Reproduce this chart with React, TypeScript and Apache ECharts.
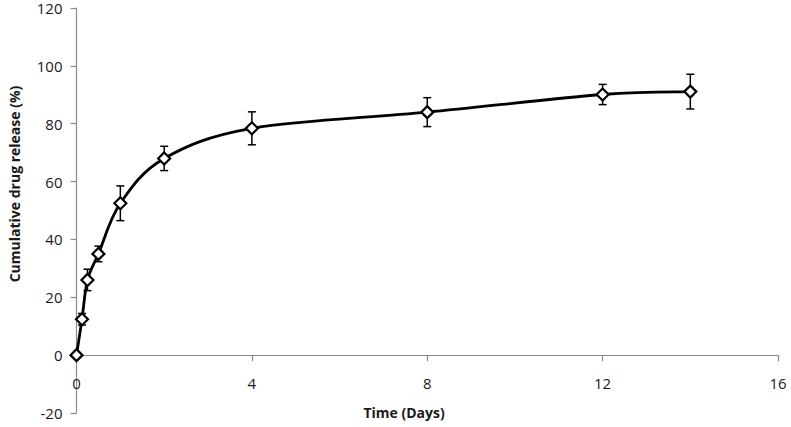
import React, { useEffect, useRef } from "react";
import * as echarts from "echarts";

const timeDays = [0, 0.125, 0.25, 0.5, 1, 2, 4, 8, 12, 14];
const releasePct = [0, 12.4, 26, 35, 52.5, 68, 78.4, 84, 90.1, 91.1];
const releaseSd = [0, 2, 3.7, 2.7, 6, 4.2, 5.7, 5, 3.5, 6];
const xTitle = "Time (Days)";
const yTitle = "Cumulative drug release (%)";

export default function App() {
  const ref = useRef<HTMLDivElement | null>(null);
  useEffect(() => {
    if (!ref.current) return;
    const chart = echarts.init(ref.current, null, { renderer: "svg" });
    const axisGray = "#8a8a8a";
    const font = "Open Sans";
    const pointData = timeDays.map((t, i) => [t, releasePct[i]]);
    const errData = timeDays.map((t, i) => [t, releasePct[i] - releaseSd[i], releasePct[i] + releaseSd[i]]);
    const gridTop = 8;
    const gridBottom = 14;
    const yMin = -20;
    const yMax = 120;
    const plotH = 427 - gridTop - gridBottom;
    const zeroOffset = -(plotH * (0 - yMin)) / (yMax - yMin);
    chart.setOption({
      animation: false,
      backgroundColor: "#ffffff",
      grid: { left: 76.5, right: 13, top: gridTop, bottom: gridBottom, containLabel: false, outerBoundsMode: "none" },
      xAxis: {
        type: "value",
        min: 0,
        max: 16,
        interval: 4,
        offset: zeroOffset,
        splitLine: { show: false },
        axisLine: { show: true, onZero: false, lineStyle: { color: axisGray, width: 1.2 } },
        axisTick: { show: true, inside: false, length: 6, lineStyle: { color: axisGray, width: 1.2 } },
        axisLabel: { margin: 20, color: "#1a1a1a", fontSize: 15, fontFamily: font },
      },
      yAxis: {
        type: "value",
        min: yMin,
        max: yMax,
        interval: 20,
        splitLine: { show: false },
        axisLine: { show: true, onZero: false, lineStyle: { color: axisGray, width: 1.2 } },
        axisTick: { show: true, inside: false, length: 6, lineStyle: { color: axisGray, width: 1.2 } },
        axisLabel: { margin: 14, color: "#1a1a1a", fontSize: 15, fontFamily: font },
      },
      graphic: [
        {
          type: "text",
          x: 404,
          y: 412,
          style: {
            text: xTitle,
            fontFamily: font,
            fontWeight: "bold",
            fontSize: 14,
            fill: "#1a1a1a",
            align: "center",
            verticalAlign: "middle",
          },
        },
        {
          type: "text",
          x: 14,
          y: 184,
          rotation: Math.PI / 2,
          style: {
            text: yTitle,
            fontFamily: font,
            fontWeight: "bold",
            fontSize: 14,
            fill: "#1a1a1a",
            align: "center",
            verticalAlign: "middle",
          },
        },
      ],
      series: [
        {
          type: "custom",
          z: 1,
          data: errData,
          encode: { x: 0, y: [1, 2] },
          renderItem: (params: any, api: any) => {
            const x = api.value(0);
            const lo = api.coord([x, api.value(1)]);
            const hi = api.coord([x, api.value(2)]);
            const hw = 4;
            const st = { stroke: "#000", lineWidth: 1.5 };
            return {
              type: "group",
              children: [
                { type: "line", shape: { x1: lo[0], y1: lo[1], x2: hi[0], y2: hi[1] }, style: st },
                { type: "line", shape: { x1: lo[0] - hw, y1: lo[1], x2: lo[0] + hw, y2: lo[1] }, style: st },
                { type: "line", shape: { x1: hi[0] - hw, y1: hi[1], x2: hi[0] + hw, y2: hi[1] }, style: st },
              ],
            };
          },
        },
        {
          type: "custom",
          z: 2,
          data: [[timeDays[0], releasePct[0]]],
          encode: { x: 0, y: 1 },
          renderItem: (params: any, api: any) => {
            const pts = timeDays.map((t, i) => api.coord([t, releasePct[i]]));
            const n = pts.length;
            const children: any[] = [];
            const k = 1 / 6;
            for (let i = 0; i < n - 1; i++) {
              const p0 = pts[Math.max(0, i - 1)];
              const p1 = pts[i];
              const p2 = pts[i + 1];
              const p3 = pts[Math.min(n - 1, i + 2)];
              children.push({
                type: "bezierCurve",
                shape: {
                  x1: p1[0],
                  y1: p1[1],
                  cpx1: p1[0] + (p2[0] - p0[0]) * k,
                  cpy1: p1[1] + (p2[1] - p0[1]) * k,
                  cpx2: p2[0] - (p3[0] - p1[0]) * k,
                  cpy2: p2[1] - (p3[1] - p1[1]) * k,
                  x2: p2[0],
                  y2: p2[1],
                },
                style: { stroke: "#000", lineWidth: 2.8, fill: null, lineCap: "round" },
              });
            }
            return { type: "group", children };
          },
        },
        {
          type: "scatter",
          z: 3,
          data: pointData,
          symbol: "diamond",
          symbolSize: 12,
          itemStyle: { color: "#ffffff", borderColor: "#000", borderWidth: 2.2, opacity: 1 },
        },
      ],
    });
    return () => chart.dispose();
  }, []);
  return <div ref={ref} style={{ position: "fixed", left: 0, top: 0, width: 791, height: 427 }} />;
}
